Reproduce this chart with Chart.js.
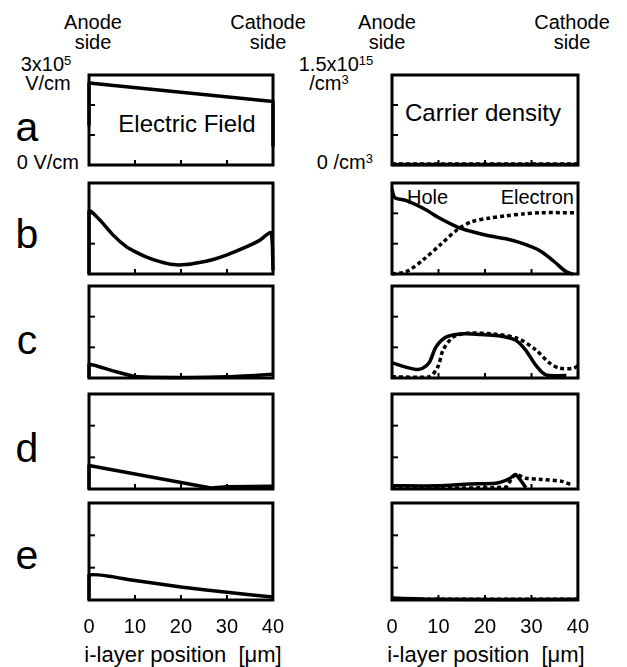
<!DOCTYPE html>
<html>
<head>
<meta charset="utf-8">
<script src="https://cdn.jsdelivr.net/npm/chart.js@4.4.0/dist/chart.umd.min.js"></script>
<style>
  html,body{margin:0;padding:0;background:#fff;}
  #wrap{position:relative;width:627px;height:667px;overflow:hidden;font-family:"Liberation Sans",Arial,sans-serif;color:#000;}
  canvas{position:absolute;}
  .t{position:absolute;white-space:nowrap;line-height:1;}
  .c{transform:translate(-50%,-50%);text-align:center;}
  .r{transform:translate(-100%,-50%);}
  .l{transform:translate(0,-50%);}
  sup{font-size:0.65em;vertical-align:0;position:relative;top:-0.5em;}
</style>
</head>
<body>
<div id="wrap">
  <div class="t c" style="left:93px;top:32px;font-size:20px;line-height:20px;">Anode<br>side</div>
  <div class="t c" style="left:268px;top:32px;font-size:20px;line-height:20px;">Cathode<br>side</div>
  <div class="t c" style="left:387px;top:32px;font-size:20px;line-height:20px;">Anode<br>side</div>
  <div class="t c" style="left:572px;top:32px;font-size:20px;line-height:20px;">Cathode<br>side</div>

  <div class="t c" style="left:46px;top:64px;font-size:20px;">3x10<sup>5</sup></div>
  <div class="t c" style="left:48px;top:83px;font-size:20px;">V/cm</div>
  <div class="t r" style="left:79px;top:162px;font-size:20px;">0 V/cm</div>

  <div class="t c" style="left:336px;top:64px;font-size:20px;">1.5x10<sup>15</sup></div>
  <div class="t c" style="left:329px;top:83px;font-size:20px;">/cm<sup>3</sup></div>
  <div class="t r" style="left:373px;top:162px;font-size:20px;">0 /cm<sup>3</sup></div>

  <div class="t c" style="left:187px;top:124px;font-size:24px;">Electric Field</div>
  <div class="t c" style="left:483px;top:113px;font-size:24px;">Carrier density</div>
  <div class="t l" style="left:407px;top:197px;font-size:20px;">Hole</div>
  <div class="t r" style="left:574px;top:197px;font-size:20px;">Electron</div>

  <div class="t c" style="left:27px;top:127px;font-size:41px;">a</div>
  <div class="t c" style="left:27px;top:234px;font-size:41px;">b</div>
  <div class="t c" style="left:27px;top:340px;font-size:41px;">c</div>
  <div class="t c" style="left:27px;top:448px;font-size:41px;">d</div>
  <div class="t c" style="left:27px;top:555px;font-size:41px;">e</div>

  <div class="t c" style="left:183px;top:655px;font-size:22px;">i-layer position&nbsp;&nbsp;[&mu;m]</div>
  <div class="t c" style="left:486px;top:655px;font-size:22px;">i-layer position&nbsp;&nbsp;[&mu;m]</div>
</div>
<script>
// ---------- DATA ----------
const xTickLabels = [0, 10, 20, 30, 40];
const fieldMax = 3;     // x10^5 V/cm
const densityMax = 1.5; // x10^15 /cm3

// Electric field (x10^5 V/cm) vs i-layer position (um)
const fieldA_x = [0, 0, 40, 40];
const fieldA_y = [1.31, 2.73, 2.12, 0.64];
const fieldB_x = [0, 0, 2.3, 5.2, 8.1, 10.2, 12.5, 15.4, 18.3, 21, 24, 27, 30, 34.3, 37, 39.6, 40];
const fieldB_y = [0, 2.06, 1.79, 1.29, 0.90, 0.72, 0.56, 0.41, 0.31, 0.31, 0.38, 0.48, 0.63, 0.90, 1.10, 1.35, 0.13];
const fieldC_x = [0, 0, 5, 10, 20, 30, 40];
const fieldC_y = [0, 0.44, 0.24, 0.05, 0.02, 0.04, 0.12];
const fieldD_x = [0, 0, 26.5, 30, 40];
const fieldD_y = [0, 0.74, 0.03, 0.07, 0.09];
const fieldE_x = [0, 0, 10, 20, 30, 40];
const fieldE_y = [0, 0.77, 0.60, 0.40, 0.24, 0.09];

// Carrier density (x10^15 /cm3): holes (solid) and electrons (dotted)
const holeA_x = [0, 40];
const holeA_y = [0.01, 0.01];
const elecA_x = [0, 40];
const elecA_y = [0.015, 0.015];

const holeB_x = [0, 0.6, 3.1, 6.8, 10.5, 14.2, 17.1, 20.8, 24.5, 28.2, 31.9, 34.8, 37.4, 38.9];
const holeB_y = [1.40, 1.26, 1.21, 1.08, 0.91, 0.77, 0.70, 0.63, 0.58, 0.50, 0.38, 0.21, 0.04, 0];
const elecB_x = [0, 3.1, 6.8, 10.5, 14.2, 17.1, 20.8, 24.5, 28.2, 31.9, 40];
const elecB_y = [0, 0.04, 0.24, 0.49, 0.74, 0.86, 0.92, 0.96, 0.99, 1.01, 1.01];

const holeC_x = [0, 2.4, 5.2, 6.6, 8.0, 9.5, 11.7, 15.4, 19.1, 22.8, 26.5, 28.7, 30.9, 33.1, 37.5];
const holeC_y = [0.25, 0.19, 0.14, 0.16, 0.25, 0.51, 0.67, 0.72, 0.71, 0.69, 0.62, 0.46, 0.21, 0.05, 0.04];
const elecC_x = [0, 8.0, 9.9, 11.0, 13.2, 16.1, 22.8, 27.2, 30.9, 33.8, 36, 39, 40];
const elecC_y = [0.02, 0.02, 0.19, 0.46, 0.67, 0.73, 0.71, 0.64, 0.46, 0.25, 0.16, 0.16, 0.20];

const holeD_x = [0, 10, 16.7, 22.3, 25.2, 26.6, 28.8];
const holeD_y = [0.05, 0.05, 0.08, 0.09, 0.16, 0.23, 0.02];
const elecD_x = [0, 24.5, 25.6, 26.6, 28.8, 32.3, 36.6, 38.4];
const elecD_y = [0.02, 0.03, 0.15, 0.23, 0.17, 0.15, 0.12, 0.07];

const holeE_x = [0, 5, 10, 40];
const holeE_y = [0.03, 0.02, 0.01, 0.01];
const elecE_x = [0, 40];
const elecE_y = [0.01, 0.01];

// ---------- LAYOUT ----------
const FONT = '"Liberation Sans", Arial, sans-serif';
const rows = [
  {top: 75, bottom: 165},
  {top: 183, bottom: 274},
  {top: 286, bottom: 378},
  {top: 394, bottom: 489},
  {top: 503, bottom: 600}
];
const cols = [{left: 89, right: 273}, {left: 392, right: 578}];
const PADX = 26, PADY = 6, TICKPAD = 15, TICKFONT = 20;

const zip = (xs, ys) => xs.map((x, i) => ({x: x, y: ys[i]}));

const framePlugin = {
  id: 'frame',
  afterDatasetsDraw(chart, args, opts) {
    const {ctx, chartArea: a} = chart;
    const xs = chart.scales.x, ys = chart.scales.y;
    ctx.save();
    ctx.strokeStyle = '#000';
    ctx.lineWidth = 2;
    opts.yTicks.forEach(v => {
      const py = ys.getPixelForValue(v);
      ctx.beginPath(); ctx.moveTo(a.left, py); ctx.lineTo(a.left + 6, py); ctx.stroke();
    });
    [10, 20, 30].forEach(v => {
      const px = xs.getPixelForValue(v);
      ctx.beginPath(); ctx.moveTo(px, a.bottom); ctx.lineTo(px, a.bottom - 5); ctx.stroke();
    });
    ctx.lineWidth = 3;
    ctx.strokeRect(a.left, a.top, a.right - a.left, a.bottom - a.top);
    ctx.restore();
  }
};

function makeChart(col, row, datasets, yMax, yTicks) {
  const wrap = document.getElementById('wrap');
  const c = document.createElement('canvas');
  const isBottom = row === rows.length - 1;
  const R = rows[row], C = cols[col];
  const left = C.left - PADX, top = R.top - PADY;
  const width = (C.right - C.left) + 2 * PADX;
  const axisH = isBottom ? Math.round(TICKFONT * 1.2 + 2 * TICKPAD) : PADY;
  const height = (R.bottom - R.top) + PADY + axisH;
  c.width = width; c.height = height;
  c.style.left = left + 'px'; c.style.top = top + 'px';
  c.style.width = width + 'px'; c.style.height = height + 'px';
  wrap.appendChild(c);
  new Chart(c, {
    type: 'line',
    data: {datasets: datasets},
    options: {
      responsive: false,
      animation: false,
      devicePixelRatio: 1,
      layout: {padding: {left: PADX, right: PADX, top: PADY, bottom: isBottom ? 0 : PADY}},
      plugins: {legend: {display: false}, tooltip: {enabled: false}, frame: {yTicks: yTicks}},
      elements: {point: {radius: 0}},
      scales: {
        x: {
          type: 'linear', min: 0, max: 40,
          display: isBottom,
          grid: {display: false, drawTicks: false},
          border: {display: false},
          afterBuildTicks: s => { s.ticks = xTickLabels.map(v => ({value: v})); },
          ticks: {color: '#000', font: {family: FONT, size: TICKFONT, lineHeight: 1.2}, padding: TICKPAD,
                  maxRotation: 0, autoSkip: false}
        },
        y: {type: 'linear', min: 0, max: yMax, display: false}
      }
    },
    plugins: [framePlugin]
  });
}

function solid(xs, ys, tension) {
  return {data: zip(xs, ys), borderColor: '#000', borderWidth: 3.5, tension: tension || 0,
          clip: false, fill: false, borderCapStyle: 'butt', borderJoinStyle: 'round'};
}
function dotted(xs, ys, tension) {
  return {data: zip(xs, ys), borderColor: '#000', borderWidth: 3.5, borderDash: [4, 3], tension: tension || 0,
          clip: false, fill: false, borderCapStyle: 'butt'};
}

const fTicks = [1, 2], dTicks = [0.5, 1.0];
makeChart(0, 0, [solid(fieldA_x, fieldA_y)], fieldMax, fTicks);
makeChart(0, 1, [solid(fieldB_x, fieldB_y, 0.3)], fieldMax, fTicks);
makeChart(0, 2, [solid(fieldC_x, fieldC_y, 0.2)], fieldMax, fTicks);
makeChart(0, 3, [solid(fieldD_x, fieldD_y)], fieldMax, fTicks);
makeChart(0, 4, [solid(fieldE_x, fieldE_y, 0.2)], fieldMax, fTicks);

makeChart(1, 0, [solid(holeA_x, holeA_y), dotted(elecA_x, elecA_y)], densityMax, dTicks);
makeChart(1, 1, [solid(holeB_x, holeB_y, 0.3), dotted(elecB_x, elecB_y, 0.3)], densityMax, dTicks);
makeChart(1, 2, [solid(holeC_x, holeC_y, 0.3), dotted(elecC_x, elecC_y, 0.3)], densityMax, dTicks);
makeChart(1, 3, [solid(holeD_x, holeD_y, 0.2), dotted(elecD_x, elecD_y, 0.2)], densityMax, dTicks);
makeChart(1, 4, [solid(holeE_x, holeE_y, 0.2), dotted(elecE_x, elecE_y)], densityMax, dTicks);
</script>
</body>
</html>
